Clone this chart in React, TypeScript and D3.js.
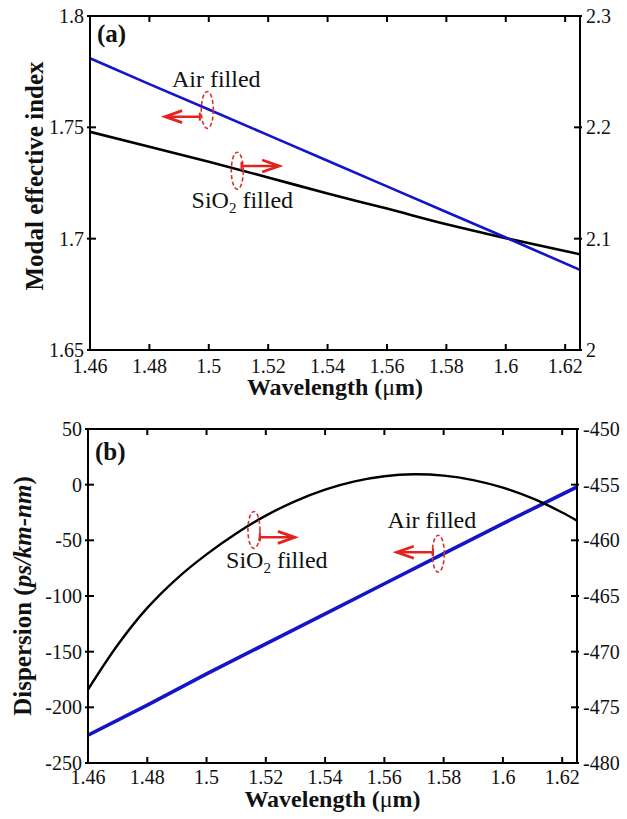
import React from "react";
import * as d3 from "d3";

const FONT = "'Liberation Serif', 'Times New Roman', serif";
const BLUE = "#1414c8";
const RED = "#e3231e";

// ---------- shared axis data ----------
const wavelengthDomain = [1.46, 1.625];
const wavelengthTicks = [1.46, 1.48, 1.5, 1.52, 1.54, 1.56, 1.58, 1.6, 1.62];

// ---------- panel (a) ----------
const indexLeftDomain = [1.65, 1.8];
const indexLeftTicks = [1.65, 1.7, 1.75, 1.8];
const indexRightDomain = [2, 2.3];
const indexRightTicks = [2, 2.1, 2.2, 2.3];

const indexWavelengths = [1.46, 1.48, 1.5, 1.52, 1.54, 1.56, 1.58, 1.6, 1.625];
const airIndex = [1.781, 1.7694, 1.758, 1.7465, 1.735, 1.7235, 1.712, 1.7005, 1.686];
const sio2Index = [2.196, 2.1826, 2.169, 2.155, 2.1405, 2.127, 2.113, 2.1005, 2.086];

// ---------- panel (b) ----------
const dispLeftDomain = [-250, 50];
const dispLeftTicks = [-250, -200, -150, -100, -50, 0, 50];
const dispRightDomain = [-480, -450];
const dispRightTicks = [-480, -475, -470, -465, -460, -455, -450];

const sio2DispWavelengths = [1.46, 1.47, 1.48, 1.49, 1.5, 1.51, 1.52, 1.53, 1.54, 1.55, 1.56, 1.57, 1.58, 1.59, 1.6, 1.61, 1.62, 1.625];
const sio2Dispersion = [-184, -144, -110.7, -84.3, -62.6, -43.8, -27.8, -14.7, -4.4, 3.0, 7.6, 9.3, 8.1, 4.1, -2.7, -12.4, -25.0, -32.3];
const airDispWavelengths = [1.46, 1.48, 1.5, 1.52, 1.54, 1.56, 1.58, 1.6, 1.625];
const airDispersion = [-477.5, -474.8, -472.0, -469.3, -466.6, -463.9, -461.2, -458.5, -455.2];

type Ann = {
  text: "air" | "sio2";
  axis: "left" | "right";
  ell: [number, number];
  arrowY: number;
  arrowFrom: number;
  arrowTo: number;
  textPos: [number, number];
};

type PanelProps = {
  box: { x0: number; x1: number; y0: number; y1: number };
  leftDomain: number[];
  leftTicks: number[];
  rightDomain: number[];
  rightTicks: number[];
  label: string;
  labelDy: number;
  xTickDy: number;
  xTitleDy: number;
  ylabel: React.ReactNode;
  ylabelX: number;
  ylabelY: number;
  leftSeries: { x: number[]; y: number[]; color: string; width: number; curve: any };
  rightSeries: { x: number[]; y: number[]; color: string; width: number; curve: any };
  anns: Ann[];
};

function AnnText({ kind, x, y }: { kind: "air" | "sio2"; x: number; y: number }) {
  if (kind === "air") {
    return (
      <text x={x} y={y} fontFamily={FONT} fontSize={24} fill="#111">
        Air filled
      </text>
    );
  }
  return (
    <text x={x} y={y} fontFamily={FONT} fontSize={24} fill="#111">
      SiO
      <tspan fontSize={15} dy={5}>2</tspan>
      <tspan dy={-5}> filled</tspan>
    </text>
  );
}

function Panel(p: PanelProps) {
  const { box } = p;
  const x = d3.scaleLinear().domain(wavelengthDomain).range([box.x0, box.x1]);
  const yl = d3.scaleLinear().domain(p.leftDomain).range([box.y1, box.y0]);
  const yr = d3.scaleLinear().domain(p.rightDomain).range([box.y1, box.y0]);

  const lineL = d3
    .line<number>()
    .x((_, i) => x(p.leftSeries.x[i]))
    .y((d) => yl(d))
    .curve(p.leftSeries.curve);
  const lineR = d3
    .line<number>()
    .x((_, i) => x(p.rightSeries.x[i]))
    .y((d) => yr(d))
    .curve(p.rightSeries.curve);

  const clipId = "clip" + p.label.replace(/\W/g, "");

  return (
    <g>
      <defs>
        <clipPath id={clipId}>
          <rect x={box.x0} y={box.y0} width={box.x1 - box.x0} height={box.y1 - box.y0} />
        </clipPath>
      </defs>
      <g clipPath={`url(#${clipId})`}>
        <path d={lineR(p.rightSeries.y) || ""} fill="none" stroke={p.rightSeries.color} strokeWidth={p.rightSeries.width} />
        <path d={lineL(p.leftSeries.y) || ""} fill="none" stroke={p.leftSeries.color} strokeWidth={p.leftSeries.width} />
      </g>
      {/* frame */}
      <rect x={box.x0} y={box.y0} width={box.x1 - box.x0} height={box.y1 - box.y0} fill="none" stroke="#000" strokeWidth={2} />
      {/* x ticks */}
      {wavelengthTicks.map((t) => (
        <g key={"xt" + t}>
          <line x1={x(t)} x2={x(t)} y1={box.y1} y2={box.y1 - 6} stroke="#000" strokeWidth={2} />
          <line x1={x(t)} x2={x(t)} y1={box.y0} y2={box.y0 + 6} stroke="#000" strokeWidth={2} />
          <text x={x(t)} y={box.y1 + p.xTickDy} textAnchor="middle" fontFamily={FONT} fontSize={20} fill="#111">
            {String(t)}
          </text>
        </g>
      ))}
      {/* left ticks */}
      {p.leftTicks.map((t) => (
        <g key={"lt" + t}>
          <line x1={box.x0 - 3} x2={box.x0 + 6} y1={yl(t)} y2={yl(t)} stroke="#000" strokeWidth={2} />
          <text x={box.x0 - 6} y={yl(t)} dy="0.35em" textAnchor="end" fontFamily={FONT} fontSize={20} fill="#111">
            {String(t)}
          </text>
        </g>
      ))}
      {/* right ticks */}
      {p.rightTicks.map((t) => (
        <g key={"rt" + t}>
          <line x1={box.x1 - 6} x2={box.x1 + 2} y1={yr(t)} y2={yr(t)} stroke="#000" strokeWidth={2} />
          <text x={box.x1 + 6} y={yr(t)} dy="0.35em" textAnchor="start" fontFamily={FONT} fontSize={20} fill="#111">
            {String(t)}
          </text>
        </g>
      ))}
      {/* panel label */}
      <text x={box.x0 + 7} y={box.y0 + p.labelDy} fontFamily={FONT} fontSize={25} fontWeight="bold" fill="#111">
        {p.label}
      </text>
      {/* x axis title */}
      <text x={(box.x0 + box.x1) / 2} y={box.y1 + p.xTitleDy} textAnchor="middle" fontFamily={FONT} fontSize={24} fontWeight="bold" fill="#111">
        Wavelength (
        <tspan fontWeight="normal">μ</tspan>
        m)
      </text>
      {/* y axis title */}
      <text
        transform={`translate(${p.ylabelX},${p.ylabelY}) rotate(-90)`}
        textAnchor="middle"
        fontFamily={FONT}
        fontSize={25}
        fontWeight="bold"
        fill="#111"
      >
        {p.ylabel}
      </text>
      {/* annotations */}
      {p.anns.map((a, i) => {
        const ys = a.axis === "left" ? yl : yr;
        const cx = x(a.ell[0]);
        const cy = ys(a.ell[1]);
        const ay = ys(a.arrowY);
        const fx = x(a.arrowFrom);
        const tx = x(a.arrowTo);
        const dir = tx > fx ? 1 : -1;
        const head = `M${tx - dir * 17},${ay - 6} L${tx},${ay} L${tx - dir * 17},${ay + 6}`;
        return (
          <g key={"ann" + i}>
            <ellipse cx={cx} cy={cy} rx={6} ry={18.5} fill="none" stroke="#d4322c" strokeWidth={1.6} strokeDasharray="4,2.5" />
            <line x1={fx} x2={tx} y1={ay} y2={ay} stroke={RED} strokeWidth={2.5} />
            <line x1={fx} x2={fx} y1={ay - 4} y2={ay + 4} stroke={RED} strokeWidth={2} />
            <path d={head} fill="none" stroke={RED} strokeWidth={2.8} strokeLinejoin="miter" />
            <AnnText kind={a.text} x={x(a.textPos[0])} y={ys(a.textPos[1])} />
          </g>
        );
      })}
    </g>
  );
}

export default function App() {
  return (
    <svg
      width={627}
      height={819}
      viewBox="0 0 627 819"
      style={{ position: "absolute", left: 0, top: 0, background: "#fff" }}
    >
      <rect width={627} height={819} fill="#fff" />
      <Panel
        box={{ x0: 90, x1: 580, y0: 16, y1: 350 }}
        leftDomain={indexLeftDomain}
        leftTicks={indexLeftTicks}
        rightDomain={indexRightDomain}
        rightTicks={indexRightTicks}
        label="(a)"
        labelDy={26}
        xTickDy={23}
        xTitleDy={45}
        ylabel="Modal effective index"
        ylabelX={43}
        ylabelY={176}
        leftSeries={{ x: indexWavelengths, y: airIndex, color: BLUE, width: 2.6, curve: d3.curveLinear }}
        rightSeries={{ x: indexWavelengths, y: sio2Index, color: "#000", width: 2.6, curve: d3.curveMonotoneX }}
        anns={[
          { text: "air", axis: "left", ell: [1.4995, 1.7578], arrowY: 1.7548, arrowFrom: 1.497, arrowTo: 1.4853, textPos: [1.4876, 1.7681] },
          { text: "sio2", axis: "right", ell: [1.5096, 2.161], arrowY: 2.1653, arrowFrom: 1.511, arrowTo: 1.5237, textPos: [1.4942, 2.1278] },
        ]}
      />
      <Panel
        box={{ x0: 88, x1: 577, y0: 429, y1: 763 }}
        leftDomain={dispLeftDomain}
        leftTicks={dispLeftTicks}
        rightDomain={dispRightDomain}
        rightTicks={dispRightTicks}
        label="(b)"
        labelDy={31}
        xTickDy={21}
        xTitleDy={44}
        ylabel={
          <>
            Dispersion (<tspan fontStyle="italic">ps/km-nm</tspan>)
          </>
        }
        ylabelX={31}
        ylabelY={596}
        leftSeries={{ x: sio2DispWavelengths, y: sio2Dispersion, color: "#000", width: 2.4, curve: d3.curveCatmullRom }}
        rightSeries={{ x: airDispWavelengths, y: airDispersion, color: BLUE, width: 3.6, curve: d3.curveLinear }}
        anns={[
          { text: "sio2", axis: "left", ell: [1.516, -40.7], arrowY: -47.3, arrowFrom: 1.518, arrowTo: 1.5298, textPos: [1.5066, -74.9] },
          { text: "air", axis: "right", ell: [1.5782, -461.2], arrowY: -461.07, arrowFrom: 1.5764, arrowTo: 1.5642, textPos: [1.5611, -458.92] },
        ]}
      />
    </svg>
  );
}
